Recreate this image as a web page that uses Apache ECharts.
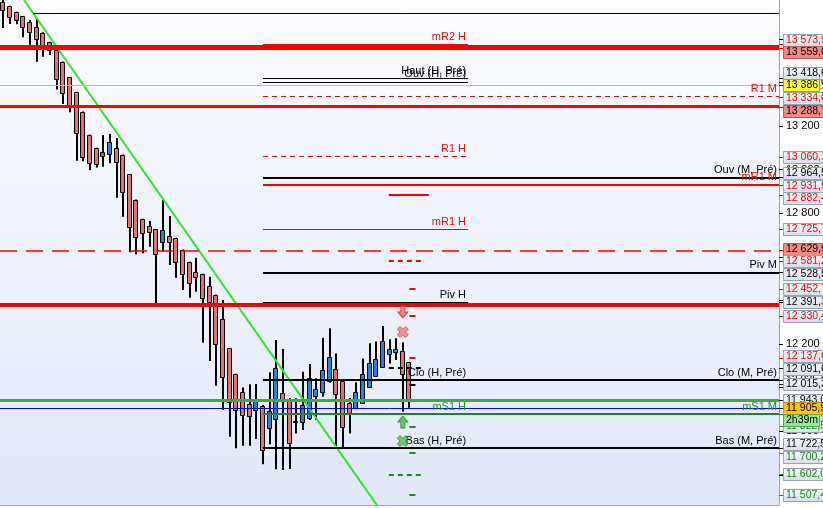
<!DOCTYPE html>
<html><head><meta charset="utf-8">
<script src="https://cdn.jsdelivr.net/npm/echarts@6/dist/echarts.min.js"></script>
<style>html,body{margin:0;padding:0;background:#fff}#c{width:823px;height:508px}</style>
</head><body><div id="c"></div>
<script>
// ---------- DATA ----------
const candleOpen  = [13767,13749,13721,13703,13677,13653,13627,13584,13549,13494,13423,13355,13264,13159,13098,13061,13070,13098,13067,12978,12861,12772,12740,12726,12669,12695,12685,12631,12575,12529,12520,12466,12425,12313,12180,12062,11978,11923,11897,11917,11813,11856,11975,11943,11846,11844,11859,11963,11978,12030,12084,12030,11928,11908,11928,12001,12053,12093,12154,12165,12169,12116];
const candleClose = [13732,13699,13686,13653,13630,13598,13564,13549,13414,13350,13292,13166,13059,13032,13024,13079,13128,13033,12896,12738,12689,12708,12712,12611,12723,12669,12575,12520,12478,12509,12410,12394,12200,12047,11935,11897,11874,11870,11939,11714,11893,12089,11943,11745,11842,11920,12043,11992,12081,12139,11969,11821,11882,11978,12062,12111,12130,12214,12176,12176,12062,11943];
const candleLow   = [13650,13668,13667,13607,13572,13495,13518,13526,13368,13301,13263,13041,13038,12998,13010,13013,13029,12871,12784,12621,12611,12616,12646,12387,12623,12562,12504,12448,12412,12440,12206,12122,12009,11897,11775,11722,11733,11733,11764,11648,11740,11625,11622,11627,11790,11805,11851,11851,11958,12022,11729,11724,11790,11905,11926,12000,12050,12090,12111,12127,11889,11908];
const candleHigh  = [13778,13752,13724,13705,13686,13694,13630,13586,13551,13496,13425,13357,13266,13161,13100,13159,13163,13145,13069,12980,12863,12774,12764,12728,12861,12787,12687,12633,12577,12596,12522,12509,12427,12402,12182,12064,12001,12015,12017,11920,12071,12218,12177,11952,11951,12073,12108,12043,12229,12272,12157,12035,11952,12024,12134,12203,12211,12283,12222,12226,12208,12117];

// horizontal levels
const lvPrice = [13717,13559.6,13573.9,13418.6,13402,13386,13334.6,13288.7,13060.1,12964.5,12931.5,12882.4,12725.7,12629.9,12581.2,12528.5,12452.7,12391.3,12378,12330.4,12137.6,12091.6,12035,12035,12015.3,11943,11905.9,11879,11879,11822.5,11722.5,11722.5,11700.2,11602.0,11507.4];
const lvName  = ['','','mR2 H','Haut (H, Pré)','Ouv (H, Pré)','','R1 M','','R1 H','Ouv (M, Pré)','mR1 M','','mR1 H','','','Piv M','','Piv H','','','','','Clo (H, Pré)','Clo (M, Pré)','','','','mS1 H','mS1 M','','Bas (H, Pré)','Bas (M, Pré)','','',''];
const lvSpan  = ['ref','full','H','H','H','full','M','full','H','M','M','nextW','H','full','next','M','tick','H','full','tick','tick','next','H','M','tick','full','full','H','M','tick','H','M','tick','next','tick'];
// period index ranges for each kind of level
const spanStart = {full:-0.5, ref:4.5, H:39, M:39, next:57.9, nextW:57.9, tick:61.0};
const spanEnd   = {full:116.5, ref:116.5, H:69.8, M:116.5, next:63.2, nextW:63.9, tick:61.9};

// trend line
const trendX = [3.1, 56.4];
const trendY = [13778, 11448];

// signals
const sigIdx   = [60, 60, 60, 60];
const sigPrice = [12347, 12255, 11842, 11755];
const sigType  = ['sellArrow','sellCross','buyArrow','buyCross'];

// right scale boxes
const boxValues = [13573.9,13559.6,13418.6,13386,13334.6,13288.7,13060.1,12964.5,12931.5,12882.4,12725.7,12629.9,12581.2,12528.5,12452.7,12391.3,12330.4,12137.6,12091.6,12015.3,11905.9,11822.5,11722.5,11700.2,11602.0,11507.4];
const boxKind   = ['r','sal','k','yel','r','sal','r','k','r','r','r','sal','r','k','r','k','r','r','k','k','cur','g','k','g','g','g'];
const hiddenBoxValues = [13402, 12035, 11943, 11879];
const hiddenBoxKind   = ['k','k','k','g'];
const countdownText = '2h39m';
const tickValues = [11600,11800,12000,12200,12400,12600,12800,13000,13200,13400,13600];
const periodCount = 117;

// ---------- STYLES ----------
const FONT = 'Liberation Sans, Arial, sans-serif';
const RED = '#ff0000', GREEN = '#168c16', BLACK = '#000000';
const lvStyle = ['k1','r5','r1','k1','k1','pink1','r1d','r3','r1d','k2','r2','r2','r1','r15d','r2d','k2','r2','k2','r4','r2','r2','k2d','k2','k2','k2','g3','b1','g2','g2','g2','k2','k2','g2','g2d','g2'];
const styles = {
  k1:{color:BLACK,width:1}, k2:{color:BLACK,width:2}, k2d:{color:BLACK,width:2,type:[5,4]},
  r1:{color:RED,width:1}, r1d:{color:RED,width:1,type:[5,4]}, r2:{color:RED,width:2}, r3:{color:RED,width:3},
  r4:{color:RED,width:4}, r5:{color:RED,width:5}, r15d:{color:RED,width:1.5,type:[17,9]}, r2d:{color:RED,width:2,type:[5,4]},
  pink1:{color:'#f5a3a3',width:1}, g2:{color:GREEN,width:2}, g2d:{color:GREEN,width:2,type:[5,4]},
  g3:{color:'#3cae3c',width:3}, b1:{color:'#0000ff',width:1}
};
function labelColor(key){ return key[0]==='r' ? RED : (key[0]==='g' ? '#229922' : BLACK); }

function fmt(v, dec){
  const s = v.toFixed(dec); const parts = s.split('.');
  const ip = parts[0].replace(/\B(?=(\d{3})+(?!\d))/g, ' ');
  return parts[1] ? ip + ',' + parts[1] : ip;
}

const chart = echarts.init(document.getElementById('c'));

const candleData = candleOpen.map((o,i)=>[i, o, candleClose[i], candleLow[i], candleHigh[i]]);

function renderCandle(params, api){
  const i = api.value(0), o = api.value(1), c = api.value(2), l = api.value(3), h = api.value(4);
  const pO = api.coord([i,o]), pC = api.coord([i,c]), pL = api.coord([i,l]), pH = api.coord([i,h]);
  const x = Math.round(pO[0]);
  const top = Math.round(Math.min(pO[1], pC[1])), bot = Math.round(Math.max(pO[1], pC[1]));
  const up = c > o;
  return {type:'group', children:[
    {type:'line', shape:{x1:x, y1:pH[1], x2:x, y2:pL[1]}, style:{stroke:'#000', lineWidth:2}},
    {type:'rect', shape:{x:x-2.5, y:top+0.5, width:4, height:Math.max(bot-top,1)},
     style:{fill: up ? '#2a7fe0' : '#e07272', stroke:'#000', lineWidth:1}}
  ]};
}

const markData = lvPrice.map((p,i)=>{
  const st = styles[lvStyle[i]];
  return [{
    coord:[spanStart[lvSpan[i]], p],
    lineStyle:{color:st.color, width:st.width, type: st.type || 'solid'},
    label: lvName[i] ? {show:true, position:'insideEndTop', formatter:lvName[i], color:labelColor(lvStyle[i]),
                        fontSize:11, fontFamily:FONT, distance:2} : {show:false}
  },{coord:[spanEnd[lvSpan[i]], p]}];
});

const sigSymbols = {
  sellArrow:{symbol:'path://M3,0L7,0L7,6L10,6L5,12L0,6L3,6Z', size:[10,12], color:'#f06464', border:'#c03030'},
  sellCross:{symbol:'path://M3,0L6,3L9,0L12,3L9,6L12,9L9,12L6,9L3,12L0,9L3,6L0,3Z', size:[11,11], color:'#f07878', border:'#d05050'},
  buyArrow:{symbol:'path://M5,0L10,6L7,6L7,12L3,12L3,6L0,6Z', size:[10,12], color:'#44c444', border:'#208820'},
  buyCross:{symbol:'path://M3,0L6,3L9,0L12,3L9,6L12,9L9,12L6,9L3,12L0,9L3,6L0,3Z', size:[11,11], color:'#44c444', border:'#249024'}
};
const sigData = sigIdx.map((x,i)=>{
  const s = sigSymbols[sigType[i]];
  return {value:[x, sigPrice[i]], symbol:s.symbol, symbolSize:s.size, itemStyle:{color:s.color, borderColor:s.border, borderWidth:1}};
});

const lightGrad = () => new echarts.graphic.LinearGradient(0,0,0,1,[{offset:0,color:'#f8f9fc'},{offset:1,color:'#d6dce8'}]);
const boxStyles = {
  r:  {text:RED, fill:'light', stroke:'#9aa3b5', tick:RED},
  k:  {text:BLACK, fill:'light', stroke:'#9aa3b5', tick:BLACK},
  g:  {text:'#108a10', fill:'light', stroke:'#9aa3b5', tick:GREEN},
  sal:{text:BLACK, fill:'#f08a82', stroke:'#b06060', tick:RED},
  yel:{text:BLACK, fill:'#ffff38', stroke:'#a8a800', tick:BLACK, w:36},
  cur:{text:BLACK, fill:'#ffc400', stroke:'#c09000', tick:BLACK}
};

function boxEl(axisX, cy, text, st){
  const H = 12;
  return [
    {type:'rect', shape:{x:axisX+4.5, y:Math.round(cy-H/2)+0.5, width:st.w || 60, height:H},
     style:{fill: st.fill==='light' ? lightGrad() : st.fill, stroke:st.stroke, lineWidth:1}},
    {type:'text', style:{x:axisX+7, y:Math.round(cy)+0.5, text:text, fill:st.text, font:'10.5px '+FONT, verticalAlign:'middle', align:'left'}}
  ];
}

function renderBoxes(params, api){
  const axisX = Math.round(api.coord([116.5, 12000])[0]);
  const H = 12.6;
  const children = [];
  boxValues.concat(hiddenBoxValues).forEach((v,i)=>{
    const kind = i < boxValues.length ? boxKind[i] : hiddenBoxKind[i-boxValues.length];
    const y = Math.round(api.coord([0,v])[1]) + 0.5;
    children.push({type:'line', shape:{x1:axisX, y1:y, x2:axisX+4, y2:y}, style:{stroke:boxStyles[kind].tick, lineWidth:1}});
  });
  hiddenBoxValues.forEach((v,i)=>{
    children.push(...boxEl(axisX, api.coord([0,v])[1], fmt(v,1), boxStyles[hiddenBoxKind[i]]));
  });
  const items = boxValues.map((v,i)=>({i, y: api.coord([0,v])[1]})).sort((a,b)=>a.y-b.y);
  let clusters = items.map(it=>({m:[it], c:it.y}));
  let merged = true;
  while (merged){
    merged = false;
    for (let k=0;k<clusters.length-1;k++){
      const A = clusters[k], B = clusters[k+1];
      if (A.c + A.m.length*H/2 > B.c - B.m.length*H/2 + 0.01){
        const m = A.m.concat(B.m);
        clusters.splice(k,2,{m, c: m.reduce((s,t)=>s+t.y,0)/m.length});
        merged = true; break;
      }
    }
  }
  let curY = null;
  const pos = [];
  clusters.forEach(cl=>{
    const top = cl.c - cl.m.length*H/2;
    cl.m.forEach((it,j)=>{ pos[it.i] = top + H*(j+0.5); });
  });
  boxValues.forEach((v,i)=>{
    const kind = boxKind[i];
    if (kind==='cur') { curY = pos[i]; return; }
    children.push(...boxEl(axisX, pos[i], fmt(v, kind==='yel'?0:1), boxStyles[kind]));
  });
  boxValues.forEach((v,i)=>{
    if (boxKind[i]==='cur') children.push(...boxEl(axisX, pos[i], fmt(v,1), boxStyles.cur));
  });
  if (curY !== null){
    children.push(...boxEl(axisX, curY+12, countdownText, {text:BLACK, fill:'#94e894', stroke:'#5aa85a', w:36}));
  }
  return {type:'group', children};
}

const option = {
  animation:false,
  backgroundColor:'#ffffff',
  grid:{left:0, top:0, width:779, height:505, show:true, borderWidth:0,
    backgroundColor:new echarts.graphic.LinearGradient(0,0,0,1,[{offset:0,color:'#fdfdff'},{offset:1,color:'#e1e8f8'}])},
  xAxis:{type:'value', min:-0.5, max:periodCount-0.5, show:false},
  yAxis:{type:'value', position:'right', min:11461.5, max:13778, scale:true,
    splitLine:{show:false},
    axisLine:{show:true, onZero:false, lineStyle:{color:'#9aa3b5', width:1}},
    axisTick:{show:true, length:4, lineStyle:{color:'#000'}, customValues:tickValues},
    axisLabel:{customValues:tickValues, formatter:v=>fmt(v,0), color:'#000', fontSize:11, margin:7, fontFamily:FONT}},
  series:[
    {type:'custom', renderItem:renderCandle, data:candleData, encode:{x:0, y:[1,2,3,4]}, z:2, clip:true},
    {type:'line', data:trendX.map((x,i)=>[x, trendY[i]]), symbol:'none', z:3, clip:true,
     lineStyle:{color:'#30e430', width:2},
     markLine:{silent:true, symbol:['none','none'], animation:false, data:markData}},
    {type:'scatter', data:sigData, z:5},
    {type:'custom', renderItem:renderBoxes, data:[[0,12000]], encode:{x:0,y:1}, z:10, clip:false, silent:true}
  ],
  graphic:[{type:'line', shape:{x1:0, y1:505.5, x2:779, y2:505.5}, style:{stroke:'#a0a8b8', lineWidth:1}, z:20}]
};
chart.setOption(option);
</script></body></html>
